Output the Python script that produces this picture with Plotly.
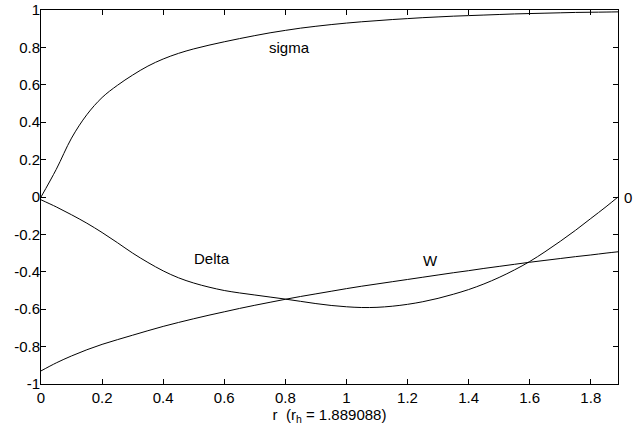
import plotly.graph_objects as go

r_h = 1.889088
r = [0, 0.05, 0.1, 0.15, 0.2, 0.25, 0.3, 0.35, 0.4, 0.45, 0.5, 0.55, 0.6, 0.65, 0.7, 0.75,
     0.8, 0.85, 0.9, 0.95, 1.0, 1.05, 1.1, 1.15, 1.2, 1.25, 1.3, 1.35, 1.4, 1.45, 1.5, 1.55,
     1.6, 1.65, 1.7, 1.75, 1.8, 1.85, 1.889088]
sigma = [0, 0.148, 0.315, 0.44, 0.532, 0.597, 0.652, 0.70, 0.738, 0.768, 0.792, 0.812,
         0.83, 0.847, 0.863, 0.878, 0.891, 0.903, 0.913, 0.922, 0.93, 0.937, 0.943, 0.949,
         0.954, 0.959, 0.963, 0.967, 0.97, 0.973, 0.976, 0.979, 0.981, 0.983, 0.985, 0.987,
         0.988, 0.989, 0.99]
delta = [-0.015, -0.053, -0.095, -0.14, -0.19, -0.244, -0.30, -0.35, -0.395, -0.432, -0.46,
         -0.482, -0.50, -0.513, -0.524, -0.535, -0.546, -0.558, -0.57, -0.58, -0.587, -0.591,
         -0.59, -0.584, -0.574, -0.56, -0.542, -0.52, -0.495, -0.465, -0.43, -0.39, -0.345,
         -0.293, -0.237, -0.178, -0.115, -0.052, 0.0]
W = [-0.93, -0.887, -0.85, -0.817, -0.788, -0.763, -0.739, -0.715, -0.692, -0.671, -0.651,
     -0.632, -0.614, -0.596, -0.579, -0.563, -0.547, -0.532, -0.518, -0.504, -0.49, -0.477,
     -0.465, -0.453, -0.441, -0.429, -0.417, -0.405, -0.394, -0.382, -0.371, -0.36, -0.349,
     -0.339, -0.329, -0.319, -0.31, -0.3, -0.293]

x_ticks = [0, 0.2, 0.4, 0.6, 0.8, 1.0, 1.2, 1.4, 1.6, 1.8]
x_labels = ["0", "0.2", "0.4", "0.6", "0.8", "1", "1.2", "1.4", "1.6", "1.8"]
y_ticks = [-1, -0.8, -0.6, -0.4, -0.2, 0, 0.2, 0.4, 0.6, 0.8, 1]
y_labels = ["-1", "-0.8", "-0.6", "-0.4", "-0.2", "0", "0.2", "0.4", "0.6", "0.8", "1"]

labels = [("sigma", 0.815, 0.80), ("Delta", 0.56, -0.33), ("W", 1.274, -0.34)]

font = "Liberation Sans, Arial, Helvetica, sans-serif"
FS = 15
fig = go.Figure()
for ys in (sigma, delta, W):
    fig.add_trace(go.Scatter(x=r, y=ys, mode="lines", line=dict(color="black", width=1,
                  shape="spline", smoothing=1.0, simplify=False),
                  showlegend=False, hoverinfo="skip"))

for txt, x, y in labels:
    fig.add_annotation(x=x, y=y, text=txt, showarrow=False, xref="x", yref="y",
                       font=dict(size=FS, color="black", family=font))
fig.add_annotation(x=1, y=0, xref="paper", yref="y", text="0", showarrow=False,
                   xanchor="left", xshift=4, font=dict(size=FS, color="black", family=font))

axis_common = dict(showgrid=False, zeroline=False, showline=True, linecolor="black",
                   linewidth=1, mirror="ticks", ticks="inside", ticklen=5, tickcolor="black",
                   tickwidth=1, automargin=False,
                   tickfont=dict(size=FS, color="black", family=font))
fig.update_xaxes(range=[0, r_h], tickvals=x_ticks, ticktext=x_labels,
                 title=dict(text="r  (r<sub>h</sub> = 1.889088)", standoff=0,
                            font=dict(size=FS, color="black", family=font)),
                 **axis_common)
fig.update_yaxes(range=[-1, 1], tickvals=y_ticks, ticktext=y_labels,
                 ticklabelstandoff=-3, **axis_common)
fig.update_layout(width=643, height=430, margin=dict(l=41, r=25, t=10, b=46),
                  plot_bgcolor="white", paper_bgcolor="white",
                  font=dict(family=font, color="black"))
fig.write_html("out.html", config={"displayModeBar": False})

with open("out.html", "r", encoding="utf-8") as f:
    html = f.read()
html = html.replace("<body>", '<body style="margin:0;padding:0;">', 1)
with open("out.html", "w", encoding="utf-8") as f:
    f.write(html)
